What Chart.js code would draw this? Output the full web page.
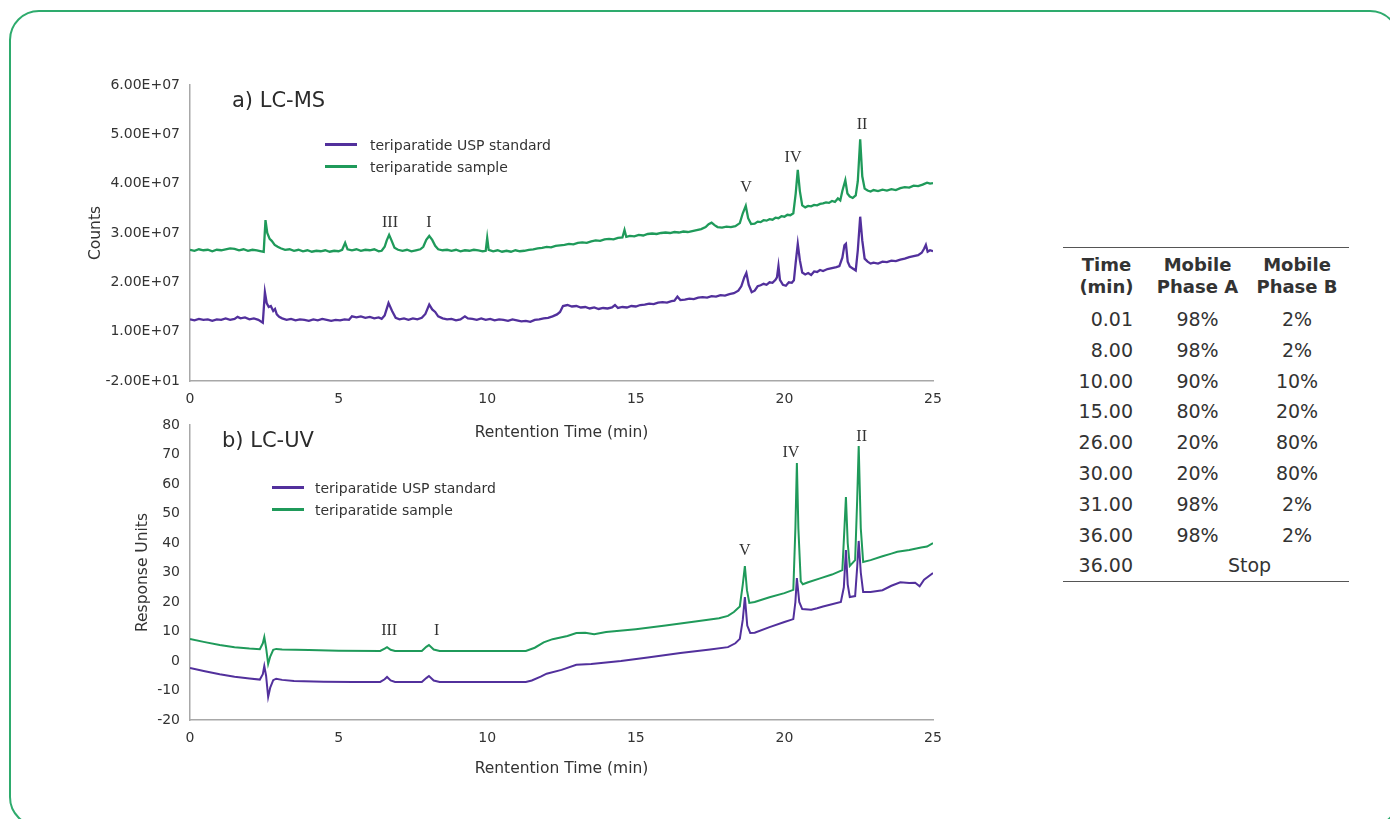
<!DOCTYPE html>
<html>
<head>
<meta charset="utf-8">
<script src="https://cdn.jsdelivr.net/npm/chart.js@4.4.0/dist/chart.umd.min.js"></script>
<style>
  html,body{margin:0;padding:0;}
  body{width:1390px;height:819px;overflow:hidden;background:#fff;position:relative;
       font-family:"DejaVu Sans",Verdana,sans-serif;color:#333;}
  .frame{position:absolute;left:9px;top:10px;width:1391px;height:817px;
         border:2px solid #2eab6d;border-radius:30px;box-sizing:border-box;}
  .chartbox{position:absolute;left:0;}
  .title{position:absolute;font-size:21px;color:#2b2b2b;line-height:24px;white-space:nowrap;}
  .legend{position:absolute;font-size:14px;color:#333;}
  .legend .item{position:relative;height:22px;line-height:22px;white-space:nowrap;}
  .legend .swatch{position:absolute;left:0;top:9px;width:32px;height:3px;}
  table.grad{position:absolute;left:1063px;top:247px;width:286px;border-collapse:collapse;
        border-top:1.5px solid #555;border-bottom:1.5px solid #555;font-size:19px;color:#333;}
  table.grad th{font-weight:bold;font-size:18px;line-height:22px;padding:6px 0 6px 0;text-align:center;}
  table.grad td{height:30.8px;padding:0;text-align:center;line-height:30.8px;}
  table.grad td.t{text-align:right;padding-right:17px;}
</style>
</head>
<body>
<div class="frame"></div>

<div class="chartbox" style="top:0;width:1000px;height:450px;"><canvas id="ms" width="1000" height="450"></canvas></div>
<div class="chartbox" style="top:400px;width:1000px;height:400px;"><canvas id="uv" width="1000" height="400"></canvas></div>

<div class="title" style="left:232px;top:88px;">a) LC-MS</div>
<div class="title" style="left:222px;top:428px;">b) LC-UV</div>
<div class="legend" id="legMS" style="left:325px;top:134px;"></div>
<div class="legend" id="legUV" style="left:272px;top:477px;"></div>

<table class="grad">
  <thead>
    <tr><th style="width:87px">Time<br>(min)</th><th style="width:95px">Mobile<br>Phase A</th><th>Mobile<br>Phase B</th></tr>
  </thead>
  <tbody id="gradBody"></tbody>
</table>

<script>
// ---------------- DATA ----------------
const seriesNames = ['teriparatide USP standard', 'teriparatide sample'];
const seriesColors = ['#52309c', '#1f9a5a'];

// LC-MS: [retention time (min), counts in units of 1E+07]
const msStdPairs = [[0.0,1.25],[0.15,1.23],[0.3,1.26],[0.45,1.24],[0.6,1.25],[0.75,1.22],[0.9,1.25],[1.05,1.24],[1.2,1.27],[1.35,1.24],[1.5,1.26],[1.6,1.30],[1.7,1.27],[1.85,1.29],[2.0,1.25],[2.15,1.27],[2.3,1.24],[2.45,1.18],[2.52,1.80],[2.58,1.58],[2.65,1.50],[2.72,1.52],[2.8,1.42],[2.86,1.46],[2.92,1.35],[3.0,1.30],[3.1,1.27],[3.25,1.24],[3.4,1.26],[3.55,1.23],[3.7,1.25],[3.85,1.24],[4.0,1.22],[4.15,1.25],[4.3,1.23],[4.45,1.26],[4.6,1.24],[4.75,1.22],[4.9,1.24],[5.05,1.23],[5.2,1.25],[5.35,1.24],[5.45,1.31],[5.6,1.29],[5.75,1.31],[5.9,1.28],[6.05,1.30],[6.2,1.27],[6.35,1.29],[6.45,1.26],[6.55,1.33],[6.68,1.58],[6.8,1.42],[6.92,1.28],[7.05,1.25],[7.2,1.27],[7.35,1.24],[7.5,1.27],[7.65,1.25],[7.8,1.28],[7.92,1.36],[8.05,1.55],[8.15,1.45],[8.25,1.40],[8.35,1.31],[8.5,1.27],[8.65,1.25],[8.8,1.26],[8.95,1.23],[9.1,1.25],[9.25,1.31],[9.35,1.27],[9.5,1.26],[9.65,1.24],[9.8,1.27],[9.95,1.24],[10.1,1.26],[10.25,1.23],[10.4,1.25],[10.55,1.24],[10.7,1.22],[10.85,1.25],[11.0,1.23],[11.15,1.21],[11.3,1.22],[11.45,1.20],[11.6,1.24],[11.75,1.25],[11.9,1.27],[12.05,1.28],[12.2,1.31],[12.35,1.35],[12.45,1.40],[12.55,1.52],[12.7,1.54],[12.85,1.51],[13.0,1.52],[13.15,1.49],[13.3,1.50],[13.45,1.47],[13.6,1.49],[13.75,1.46],[13.9,1.48],[14.05,1.47],[14.2,1.49],[14.3,1.54],[14.4,1.48],[14.55,1.50],[14.7,1.49],[14.85,1.52],[15.0,1.51],[15.15,1.54],[15.3,1.55],[15.45,1.57],[15.6,1.56],[15.75,1.59],[15.9,1.60],[16.05,1.59],[16.2,1.62],[16.3,1.63],[16.4,1.71],[16.5,1.64],[16.65,1.65],[16.8,1.67],[16.95,1.66],[17.1,1.69],[17.25,1.70],[17.4,1.69],[17.55,1.72],[17.7,1.71],[17.85,1.74],[18.0,1.73],[18.15,1.76],[18.3,1.78],[18.45,1.83],[18.55,1.92],[18.65,2.10],[18.72,2.19],[18.8,1.95],[18.9,1.80],[19.0,1.83],[19.1,1.92],[19.2,1.94],[19.3,1.97],[19.4,1.95],[19.5,2.00],[19.6,1.99],[19.7,2.05],[19.75,2.10],[19.8,2.33],[19.85,2.05],[19.95,1.95],[20.05,1.93],[20.15,2.00],[20.25,1.99],[20.32,2.04],[20.38,2.40],[20.45,2.78],[20.52,2.45],[20.6,2.20],[20.7,2.16],[20.8,2.19],[20.9,2.15],[21.0,2.22],[21.1,2.21],[21.2,2.25],[21.3,2.23],[21.45,2.27],[21.6,2.29],[21.75,2.31],[21.85,2.33],[21.95,2.50],[22.02,2.75],[22.07,2.78],[22.13,2.42],[22.2,2.32],[22.3,2.28],[22.4,2.24],[22.47,2.65],[22.55,3.33],[22.62,2.85],[22.7,2.48],[22.8,2.42],[22.9,2.38],[23.0,2.40],[23.15,2.38],[23.3,2.42],[23.45,2.41],[23.6,2.44],[23.75,2.43],[23.9,2.46],[24.05,2.48],[24.2,2.51],[24.35,2.53],[24.5,2.55],[24.62,2.60],[24.7,2.68],[24.76,2.76],[24.82,2.62],[24.9,2.65],[25.0,2.63]];

const msSmpPairs = [[0.0,2.66],[0.15,2.64],[0.3,2.67],[0.45,2.65],[0.6,2.66],[0.75,2.63],[0.9,2.66],[1.05,2.65],[1.2,2.67],[1.35,2.69],[1.5,2.68],[1.65,2.65],[1.8,2.67],[1.95,2.64],[2.1,2.66],[2.25,2.65],[2.4,2.63],[2.48,2.62],[2.54,3.26],[2.6,3.00],[2.68,2.88],[2.75,2.84],[2.85,2.76],[2.95,2.72],[3.05,2.69],[3.2,2.66],[3.35,2.67],[3.5,2.64],[3.65,2.66],[3.8,2.63],[3.95,2.65],[4.1,2.62],[4.25,2.64],[4.4,2.63],[4.55,2.65],[4.7,2.62],[4.85,2.64],[5.0,2.63],[5.12,2.66],[5.22,2.80],[5.3,2.67],[5.45,2.65],[5.6,2.67],[5.75,2.64],[5.9,2.66],[6.05,2.65],[6.2,2.67],[6.35,2.63],[6.45,2.64],[6.55,2.72],[6.62,2.85],[6.7,2.96],[6.78,2.85],[6.88,2.70],[7.0,2.66],[7.15,2.64],[7.3,2.66],[7.45,2.63],[7.6,2.65],[7.75,2.67],[7.85,2.72],[7.95,2.86],[8.05,2.94],[8.15,2.86],[8.25,2.74],[8.35,2.67],[8.5,2.65],[8.65,2.66],[8.8,2.64],[8.95,2.66],[9.1,2.63],[9.25,2.65],[9.4,2.64],[9.55,2.66],[9.7,2.65],[9.85,2.63],[9.95,2.64],[10.0,2.90],[10.05,2.66],[10.2,2.63],[10.35,2.65],[10.5,2.62],[10.65,2.64],[10.8,2.62],[10.95,2.65],[11.1,2.63],[11.25,2.64],[11.4,2.66],[11.55,2.67],[11.7,2.69],[11.85,2.70],[12.0,2.72],[12.15,2.71],[12.3,2.74],[12.45,2.75],[12.6,2.76],[12.75,2.78],[12.9,2.77],[13.05,2.80],[13.2,2.81],[13.35,2.80],[13.5,2.83],[13.65,2.85],[13.8,2.84],[13.95,2.87],[14.1,2.88],[14.25,2.87],[14.4,2.90],[14.55,2.91],[14.62,3.06],[14.68,2.92],[14.8,2.94],[14.95,2.93],[15.1,2.96],[15.25,2.95],[15.4,2.98],[15.55,2.99],[15.7,2.98],[15.85,3.00],[16.0,3.01],[16.15,3.00],[16.3,3.02],[16.45,3.01],[16.6,3.03],[16.75,3.02],[16.9,3.04],[17.05,3.06],[17.2,3.08],[17.35,3.12],[17.45,3.18],[17.55,3.21],[17.65,3.16],[17.75,3.12],[17.9,3.11],[18.05,3.13],[18.2,3.12],[18.35,3.14],[18.5,3.20],[18.6,3.40],[18.7,3.55],[18.78,3.30],[18.88,3.18],[19.0,3.19],[19.1,3.23],[19.2,3.22],[19.3,3.26],[19.4,3.25],[19.5,3.28],[19.6,3.27],[19.7,3.31],[19.8,3.30],[19.9,3.34],[20.0,3.33],[20.1,3.37],[20.2,3.36],[20.3,3.40],[20.38,3.80],[20.45,4.28],[20.52,3.85],[20.6,3.56],[20.7,3.52],[20.8,3.55],[20.9,3.54],[21.0,3.57],[21.1,3.56],[21.2,3.59],[21.3,3.60],[21.4,3.62],[21.5,3.61],[21.6,3.65],[21.7,3.63],[21.8,3.70],[21.88,3.66],[21.95,3.85],[22.05,4.07],[22.12,3.80],[22.2,3.74],[22.3,3.71],[22.4,3.76],[22.47,4.05],[22.55,4.90],[22.62,4.15],[22.7,3.90],[22.8,3.86],[22.9,3.84],[23.0,3.87],[23.15,3.85],[23.3,3.88],[23.45,3.86],[23.6,3.89],[23.75,3.87],[23.9,3.91],[24.05,3.93],[24.2,3.92],[24.35,3.96],[24.5,3.95],[24.65,3.98],[24.8,4.02],[24.9,4.00],[25.0,4.01]];

// LC-UV (response units)
const uvStdTime = [0.0,0.5,1.0,1.5,2.0,2.35,2.45,2.5,2.56,2.63,2.7,2.8,2.9,3.1,3.5,4.5,5.5,6.4,6.55,6.63,6.75,6.9,7.8,7.95,8.04,8.2,8.4,10.0,11.3,11.5,11.8,12.0,12.5,13.0,13.5,14.5,15.4,16.5,17.5,18.1,18.35,18.5,18.6,18.67,18.75,18.85,19.0,19.5,20.0,20.3,20.37,20.42,20.5,20.6,20.9,21.1,21.3,21.5,21.9,22.0,22.07,22.13,22.2,22.38,22.45,22.5,22.57,22.65,22.9,23.3,23.6,23.9,24.2,24.4,24.55,24.7,25.0];
const uvStd = [-2.4,-3.5,-4.5,-5.3,-5.9,-6.3,-4.5,-1.7,-5.0,-12.2,-9.0,-6.5,-6.0,-6.4,-6.8,-7.0,-7.1,-7.1,-6.2,-5.4,-6.6,-7.1,-7.1,-5.8,-5.1,-6.6,-7.1,-7.1,-7.1,-6.6,-5.3,-4.3,-3.0,-1.3,-1.0,0.0,1.2,2.7,3.9,4.7,6.0,7.5,14,21.7,12,9.5,9.6,11.5,13.2,14.2,20,28.1,20,17.6,17.4,17.9,18.5,19.0,20.0,25,37.6,26,21.7,22.0,32,40.7,30,23.4,23.4,24.0,25.5,26.7,26.4,26.5,25.3,27.6,29.8];

const uvSmpTime = [0.0,0.5,1.0,1.5,2.0,2.35,2.45,2.5,2.56,2.63,2.7,2.8,2.9,3.1,4.0,5.0,6.4,6.55,6.63,6.75,6.9,7.8,7.95,8.04,8.2,8.4,10.0,11.3,11.6,11.9,12.2,12.7,13.0,13.3,13.6,14.0,15.0,16.0,17.0,17.8,18.1,18.3,18.5,18.6,18.67,18.74,18.82,19.0,19.5,20.0,20.3,20.37,20.42,20.47,20.55,20.62,20.8,21.2,21.6,21.95,22.02,22.07,22.13,22.2,22.38,22.45,22.5,22.57,22.65,22.9,23.3,23.6,23.8,24.2,24.6,24.8,25.0];
const uvSmp = [7.5,6.4,5.4,4.7,4.2,4.0,6.0,8.1,4.5,-1.0,1.5,3.8,4.1,3.9,3.7,3.5,3.4,4.2,4.7,3.8,3.4,3.4,4.8,5.4,3.9,3.4,3.4,3.4,4.5,6.3,7.4,8.5,9.5,9.6,9.1,9.8,10.8,12.0,13.4,14.5,15.3,16.6,18.5,26,32.2,24,19.7,20.0,21.6,23.0,24.1,45,67.1,45,27,26.0,26.7,28.0,29.3,30.8,45,55.6,40,32.2,34.2,55,72.9,45,33.6,34.2,35.5,36.4,37.0,37.6,38.5,38.8,40.0];

// Axis ticks
const xTicks = [0, 5, 10, 15, 20, 25];
const msYTickValuesE7 = [0, 1, 2, 3, 4, 5, 6];
const msYTickLabels = ['-2.00E+01', '1.00E+07', '2.00E+07', '3.00E+07', '4.00E+07', '5.00E+07', '6.00E+07'];
const uvYTickValues = [-20, -10, 0, 10, 20, 30, 40, 50, 60, 70, 80];

// Peak labels (name, retention time, label height in data units)
const msPeakNames = ['III', 'I', 'V', 'IV', 'II'];
const msPeakTimes = [6.73, 8.04, 18.71, 20.29, 22.61];
const msPeakLabelE7 = [3.20, 3.20, 3.91, 4.52, 5.19];
const uvPeakNames = ['III', 'I', 'V', 'IV', 'II'];
const uvPeakTimes = [6.7, 8.3, 18.67, 20.22, 22.6];
const uvPeakLabelY = [10.2, 10.2, 37.3, 70.5, 75.9];

// Gradient table
const gradTime = ['0.01', '8.00', '10.00', '15.00', '26.00', '30.00', '31.00', '36.00', '36.00'];
const gradA = ['98%', '98%', '90%', '80%', '20%', '20%', '98%', '98%', 'Stop'];
const gradB = ['2%', '2%', '10%', '20%', '80%', '80%', '2%', '2%', null];

// ---------------- BUILD ----------------
const E7 = 1e7;
const toPts = (ts, vs, k) => ts.map((t, i) => ({x: t, y: vs[i] * k}));
const pairsToPts = (pairs, k) => pairs.map(p => ({x: p[0], y: p[1] * k}));

function peakPlugin(names, times, vals) {
  return {
    id: 'peakLabels',
    afterDatasetsDraw(chart) {
      const {ctx, scales} = chart;
      ctx.save();
      ctx.font = '16px "Liberation Serif", "Times New Roman", serif';
      ctx.fillStyle = '#333';
      ctx.textAlign = 'center';
      ctx.textBaseline = 'middle';
      names.forEach((n, i) => {
        ctx.fillText(n, scales.x.getPixelForValue(times[i]), scales.y.getPixelForValue(vals[i]));
      });
      ctx.restore();
    }
  };
}

const tickFont = {family: '"DejaVu Sans", Verdana, sans-serif', size: 14};
const titleFont = {family: '"DejaVu Sans", Verdana, sans-serif', size: 15.5};
const axisColor = '#333';

function makeChart(id, datasets, yCfg, padTop, xAxisH, xTitlePadB, lineW, plugin) {
  return new Chart(document.getElementById(id), {
    type: 'line',
    data: {datasets},
    options: {
      responsive: false,
      animation: false,
      events: [],
      layout: {padding: {left: 0, top: padTop, right: 67, bottom: 0}},
      plugins: {legend: {display: false}, tooltip: {enabled: false}},
      elements: {point: {radius: 0}, line: {borderWidth: lineW, tension: 0}},
      scales: {
        x: {
          type: 'linear', min: 0, max: 25,
          afterBuildTicks: s => { s.ticks = xTicks.map(v => ({value: v})); },
          afterFit: s => { s.height = xAxisH; },
          grid: {display: false, drawTicks: false},
          border: {display: true, color: '#a8a8a8', width: 1.5},
          ticks: {font: tickFont, color: axisColor, padding: 10, maxRotation: 0},
          title: {display: true, text: 'Rentention Time (min)', font: titleFont, color: axisColor,
                  padding: {top: 0, bottom: xTitlePadB}}
        },
        y: Object.assign({
          type: 'linear',
          afterFit: s => { s.width = 190; },
          grid: {display: false, drawTicks: false},
          border: {display: true, color: '#a8a8a8', width: 1.5}
        }, yCfg)
      }
    },
    plugins: [plugin]
  });
}

function dsets(stdPts, smpPts) {
  return [
    {label: seriesNames[0], data: stdPts, borderColor: seriesColors[0], backgroundColor: seriesColors[0], fill: false},
    {label: seriesNames[1], data: smpPts, borderColor: seriesColors[1], backgroundColor: seriesColors[1], fill: false}
  ];
}

const msChart = makeChart('ms',
  dsets(pairsToPts(msStdPairs, E7), pairsToPts(msSmpPairs, E7)),
  {
    min: 0, max: 6 * E7,
    afterBuildTicks: s => { s.ticks = msYTickValuesE7.map(v => ({value: v * E7})); },
    ticks: {font: tickFont, color: axisColor, padding: 10, callback: (v, i) => msYTickLabels[i]},
    title: {display: true, text: 'Counts', font: titleFont, color: axisColor, padding: {top: 86.7, bottom: 0}}
  },
  85, 69, 7.7, 2.3,
  peakPlugin(msPeakNames, msPeakTimes, msPeakLabelE7.map(v => v * E7))
);

const uvChart = makeChart('uv',
  dsets(toPts(uvStdTime, uvStd, 1), toPts(uvSmpTime, uvSmp, 1)),
  {
    min: -20, max: 80,
    afterBuildTicks: s => { s.ticks = uvYTickValues.map(v => ({value: v})); },
    ticks: {font: tickFont, color: axisColor, padding: 10, callback: v => String(v)},
    title: {display: true, text: 'Response Units', font: titleFont, color: axisColor, padding: {top: 133.7, bottom: 0}}
  },
  25, 80, 21.7, 2,
  peakPlugin(uvPeakNames, uvPeakTimes, uvPeakLabelY)
);

// HTML legends built from chart datasets
function buildLegend(chart, elId, gap) {
  const el = document.getElementById(elId);
  chart.data.datasets.forEach(ds => {
    const item = document.createElement('div');
    item.className = 'item';
    const sw = document.createElement('span');
    sw.className = 'swatch';
    sw.style.background = ds.borderColor;
    const tx = document.createElement('span');
    tx.style.marginLeft = (32 + gap) + 'px';
    tx.textContent = ds.label;
    item.appendChild(sw); item.appendChild(tx);
    el.appendChild(item);
  });
}
buildLegend(msChart, 'legMS', 13);
buildLegend(uvChart, 'legUV', 11);

// Gradient table
const tb = document.getElementById('gradBody');
gradTime.forEach((t, i) => {
  const tr = document.createElement('tr');
  const c1 = document.createElement('td'); c1.className = 't'; c1.textContent = t; tr.appendChild(c1);
  if (gradB[i] === null) {
    const c2 = document.createElement('td'); c2.colSpan = 2; c2.textContent = gradA[i]; tr.appendChild(c2);
  } else {
    const c2 = document.createElement('td'); c2.textContent = gradA[i]; tr.appendChild(c2);
    const c3 = document.createElement('td'); c3.textContent = gradB[i]; tr.appendChild(c3);
  }
  tb.appendChild(tr);
});
</script>
</body>
</html>
